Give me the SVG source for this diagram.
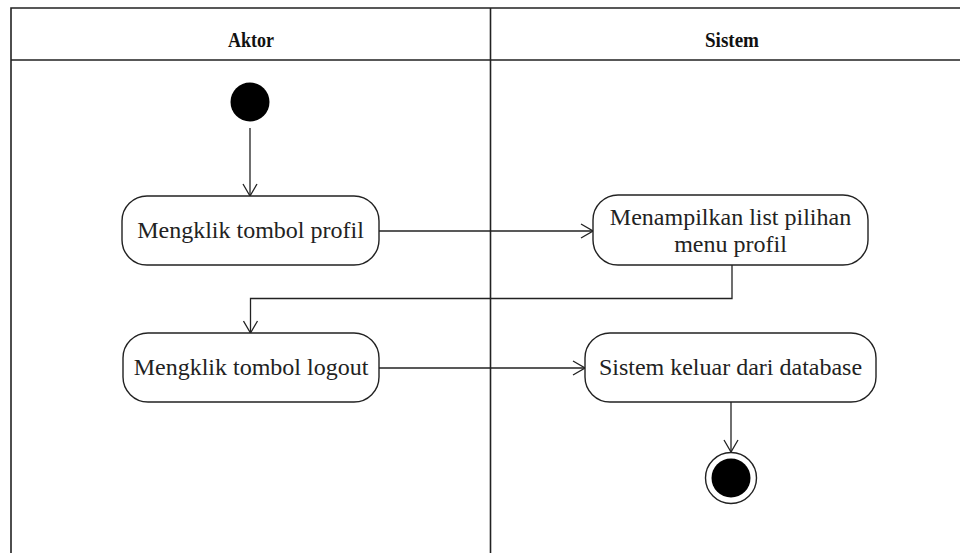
<svg xmlns="http://www.w3.org/2000/svg" width="960" height="553" viewBox="0 0 960 553">
  <style>
    .frame { fill: none; stroke: #222; stroke-width: 1.6; }
    .act { fill: #fff; stroke: #222; stroke-width: 1.4; }
    .lbl { font-family: "Liberation Serif", "Times New Roman", serif; font-size: 24px; fill: #222; text-anchor: middle; }
    .hdr { font-family: "Liberation Serif", "Times New Roman", serif; font-size: 22px; font-weight: bold; fill: #111; text-anchor: middle; }
    .edge { fill: none; stroke: #222; stroke-width: 1.3; }
  </style>
  <defs>
    <marker id="open" viewBox="0 0 14 16" refX="13" refY="8" markerWidth="14" markerHeight="16" markerUnits="userSpaceOnUse" orient="auto">
      <path d="M1,1 L13,8 L1,15" fill="none" stroke="#222" stroke-width="1.3"/>
    </marker>
  </defs>
  <rect width="960" height="553" fill="#fff"/>

  <!-- swimlane frame -->
  <g id="lanes">
    <path class="frame" d="M11,553 V8 H960 M11,60 H960 M490.5,8 V553"/>
    <text class="hdr" x="251" y="47" textLength="46" lengthAdjust="spacingAndGlyphs">Aktor</text>
    <text class="hdr" x="732" y="47" textLength="54" lengthAdjust="spacingAndGlyphs">Sistem</text>
  </g>

  <!-- connectors -->
  <g id="connectors">
    <path class="edge" d="M250,128 V196" marker-end="url(#open)"/>
    <path class="edge" d="M379,231 H593" marker-end="url(#open)"/>
    <path class="edge" d="M732,265 V298.5 H250.5 V333" marker-end="url(#open)"/>
    <path class="edge" d="M379,368 H585" marker-end="url(#open)"/>
    <path class="edge" d="M731,402 V452" marker-end="url(#open)"/>
  </g>

  <g id="start">
    <circle cx="250" cy="102" r="19.5" fill="#000"/>
  </g>

  <g id="klik-profil">
    <rect class="act" x="122" y="196" width="257" height="69" rx="25"/>
    <text class="lbl" x="250.5" y="238">Mengklik tombol profil</text>
  </g>

  <g id="tampil-menu">
    <rect class="act" x="593" y="195" width="275" height="70" rx="25"/>
    <text class="lbl" x="730.5" y="225">Menampilkan list pilihan</text>
    <text class="lbl" x="730.5" y="252">menu profil</text>
  </g>

  <g id="klik-logout">
    <rect class="act" x="123" y="333" width="256" height="69" rx="25"/>
    <text class="lbl" x="251" y="375">Mengklik tombol logout</text>
  </g>

  <g id="keluar">
    <rect class="act" x="585" y="333" width="291" height="69" rx="25"/>
    <text class="lbl" x="730.5" y="375">Sistem keluar dari database</text>
  </g>

  <g id="end">
    <circle cx="731" cy="478" r="25.5" fill="#fff" stroke="#222" stroke-width="1.4"/>
    <circle cx="731" cy="478" r="19.5" fill="#000"/>
  </g>
</svg>
